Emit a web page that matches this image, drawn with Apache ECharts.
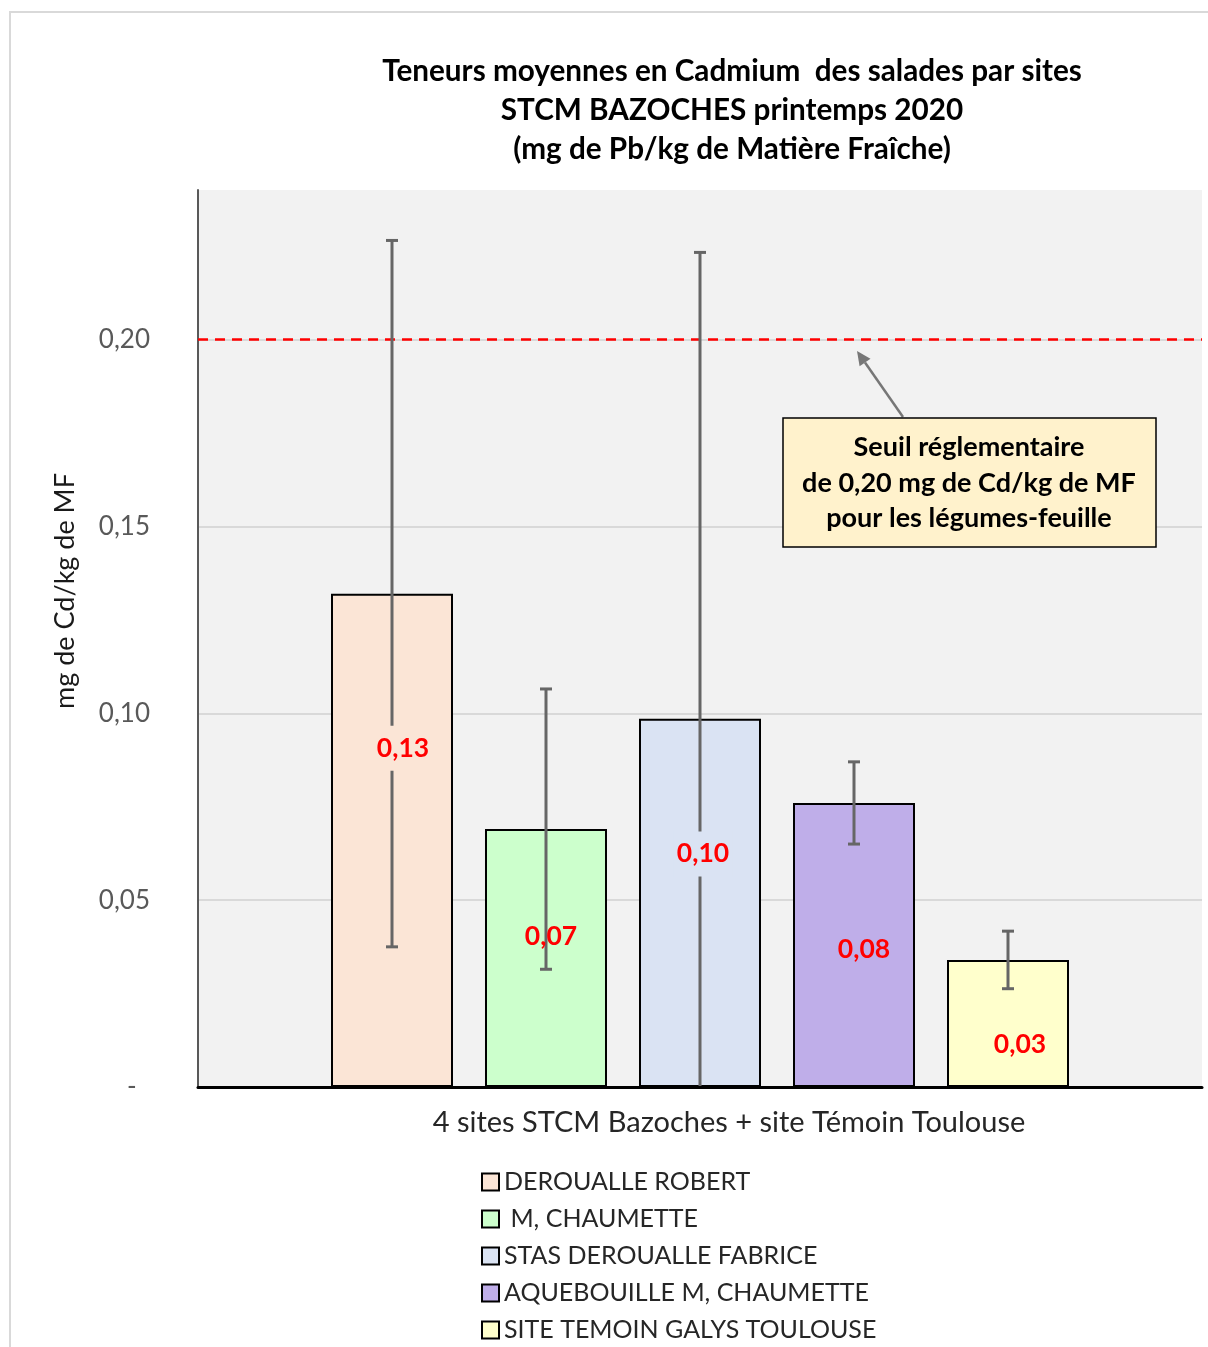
<!DOCTYPE html>
<html>
<head>
<meta charset="utf-8">
<script src="https://cdn.jsdelivr.net/npm/echarts@6/dist/echarts.min.js"></script>
<style>
html,body{margin:0;padding:0;background:#fff;}
#chart{width:1208px;height:1347px;}
</style>
</head>
<body>
<div id="chart"></div>
<script>
// ---- data ----
const categories = ['4 sites STCM Bazoches + site Témoin Toulouse'];
const siteNames = ['DEROUALLE ROBERT', ' M, CHAUMETTE', 'STAS DEROUALLE FABRICE', 'AQUEBOUILLE M, CHAUMETTE', 'SITE TEMOIN GALYS TOULOUSE'];
const meanValues = [0.132, 0.069, 0.0985, 0.076, 0.034];
const errorValues = [0.0945, 0.0375, 0.1248, 0.011, 0.0077];
const thresholdValue = 0.20;
const yMin = 0, yMax = 0.24, yInterval = 0.05;

// ---- styles / layout ----
const barColors = ['#FBE5D6', '#CCFFCC', '#DAE3F3', '#BFAEE9', '#FFFFCC'];
const BAR_WIDTH = 122, BAR_GAP_PX = 32;
const STEP = BAR_WIDTH + BAR_GAP_PX;
// label offset from bar middle [dx, dy], and whether the label hides the error line
const labelOffsets = [[11, -92], [5, -22], [3, -49], [10, 4], [12, 21]];
const labelBg = [true, false, true, false, false];
const FONT = 'Lato, "Open Sans", sans-serif';

const fmt = v => v.toFixed(2).replace('.', ',');

const chart = echarts.init(document.getElementById('chart'), null, {renderer: 'canvas'});

const barSeries = siteNames.map((name, i) => ({
  name: name,
  type: 'bar',
  data: [meanValues[i]],
  barWidth: BAR_WIDTH,
  barGap: (BAR_GAP_PX / BAR_WIDTH * 100).toFixed(2) + '%',
  itemStyle: {color: barColors[i], borderColor: '#000', borderWidth: 2},
  z: 2,
  markLine: i === 0 ? {
    silent: true,
    symbol: 'none',
    label: {show: false},
    lineStyle: {color: '#FF0000', type: [10, 7], width: 2.5},
    data: [{yAxis: thresholdValue}],
    z: 4
  } : undefined
}));

const errorSeries = {
  type: 'custom',
  name: 'err',
  z: 5,
  data: meanValues.map((m, i) => [0, i, m - errorValues[i], m + errorValues[i], m]),
  encode: {x: 0, y: [2, 3]},
  renderItem: function (params, api) {
    const i = api.value(1);
    const low = api.value(2), high = api.value(3), mean = api.value(4);
    const base = api.coord([0, 0]);
    const cx = base[0] + (i - (siteNames.length - 1) / 2) * STEP;
    const yHigh = api.coord([0, high])[1];
    let yLow = api.coord([0, low])[1];
    const children = [];
    const ls = {stroke: '#666666', lineWidth: 3};
    const clipped = yLow > base[1];
    if (clipped) yLow = base[1] - 1;
    children.push({type: 'line', shape: {x1: cx, y1: yHigh, x2: cx, y2: yLow}, style: ls});
    children.push({type: 'line', shape: {x1: cx - 6, y1: yHigh, x2: cx + 6, y2: yHigh}, style: ls});
    if (!clipped) children.push({type: 'line', shape: {x1: cx - 6, y1: yLow, x2: cx + 6, y2: yLow}, style: ls});
    const yMid = api.coord([0, mean / 2])[1];
    const off = labelOffsets[i];
    const st = {
      text: fmt(mean), fill: '#FF0000', font: 'bold 26.5px ' + FONT,
      align: 'center', verticalAlign: 'middle'
    };
    if (labelBg[i]) { st.backgroundColor = barColors[i]; st.padding = [9, 3]; }
    children.push({type: 'text', x: cx + off[0], y: yMid + off[1], style: st, z2: 10});
    return {type: 'group', children: children};
  }
};

const option = {
  animation: false,
  backgroundColor: '#fff',
  title: {
    text: 'Teneurs moyennes en Cadmium  des salades par sites\nSTCM BAZOCHES printemps 2020\n(mg de Pb/kg de Matière Fraîche)',
    left: 727, top: 47, textAlign: 'center',
    textStyle: {fontFamily: FONT, fontSize: 29.7, fontWeight: 'bold', color: '#000', lineHeight: 39}
  },
  grid: {left: 198, right: 6, top: 190, bottom: 260, show: true, backgroundColor: '#F2F2F2', borderWidth: 0},
  legend: {
    orient: 'vertical', left: 476, top: 1163, height: 200,
    icon: 'rect',
    itemWidth: 17, itemHeight: 17, itemGap: 9,
    data: siteNames,
    textStyle: {fontFamily: FONT, fontSize: 25, color: '#262626', lineHeight: 28}
  },
  xAxis: {
    type: 'category', data: categories,
    axisLine: {lineStyle: {color: '#000', width: 3}},
    axisTick: {show: false},
    axisLabel: {fontFamily: FONT, fontSize: 29, color: '#262626', margin: 21, padding: [0, 0, 0, 58]}
  },
  yAxis: {
    type: 'value', min: yMin, max: yMax, interval: yInterval,
    axisLine: {show: true, lineStyle: {color: '#595959', width: 2}},
    axisTick: {show: false},
    splitLine: {show: true, showMaxLine: false, lineStyle: {color: '#D9D9D9', width: 2}},
    axisLabel: {
      showMaxLabel: false,
      fontFamily: FONT, fontSize: 26, color: '#595959', margin: 48,
      formatter: v => (v === 0 ? '-  ' : fmt(v))
    }
  },
  graphic: [
    {type: 'rect', z: -10, shape: {x: 10, y: 12, width: 1220, height: 1360}, style: {fill: 'none', stroke: '#D9D9D9', lineWidth: 2}},
    {type: 'text', x: 65, y: 591, rotation: Math.PI / 2, z: 10,
      style: {text: 'mg de Cd/kg de MF', font: '27px ' + FONT, fill: '#1a1a1a', align: 'center', verticalAlign: 'middle'}},
    {type: 'line', z: 10, shape: {x1: 903, y1: 417, x2: 865, y2: 362.5}, style: {stroke: '#777777', lineWidth: 2.5}},
    {type: 'polygon', z: 10, shape: {points: [[857, 351], [870.5, 358.8], [859.6, 366.3]]}, style: {fill: '#777777'}},
    {type: 'rect', z: 10, shape: {x: 783, y: 418, width: 373, height: 129}, style: {fill: '#FFF2CC', stroke: '#000', lineWidth: 1.5}},
    {type: 'text', x: 969, y: 483, z: 11,
      style: {text: 'Seuil réglementaire\nde 0,20 mg de Cd/kg de MF\npour les légumes-feuille', font: 'bold 27px ' + FONT,
        fill: '#000', align: 'center', verticalAlign: 'middle', lineHeight: 35.5}}
  ],
  series: barSeries.concat([errorSeries])
};
chart.setOption(option);
</script>
</body>
</html>
